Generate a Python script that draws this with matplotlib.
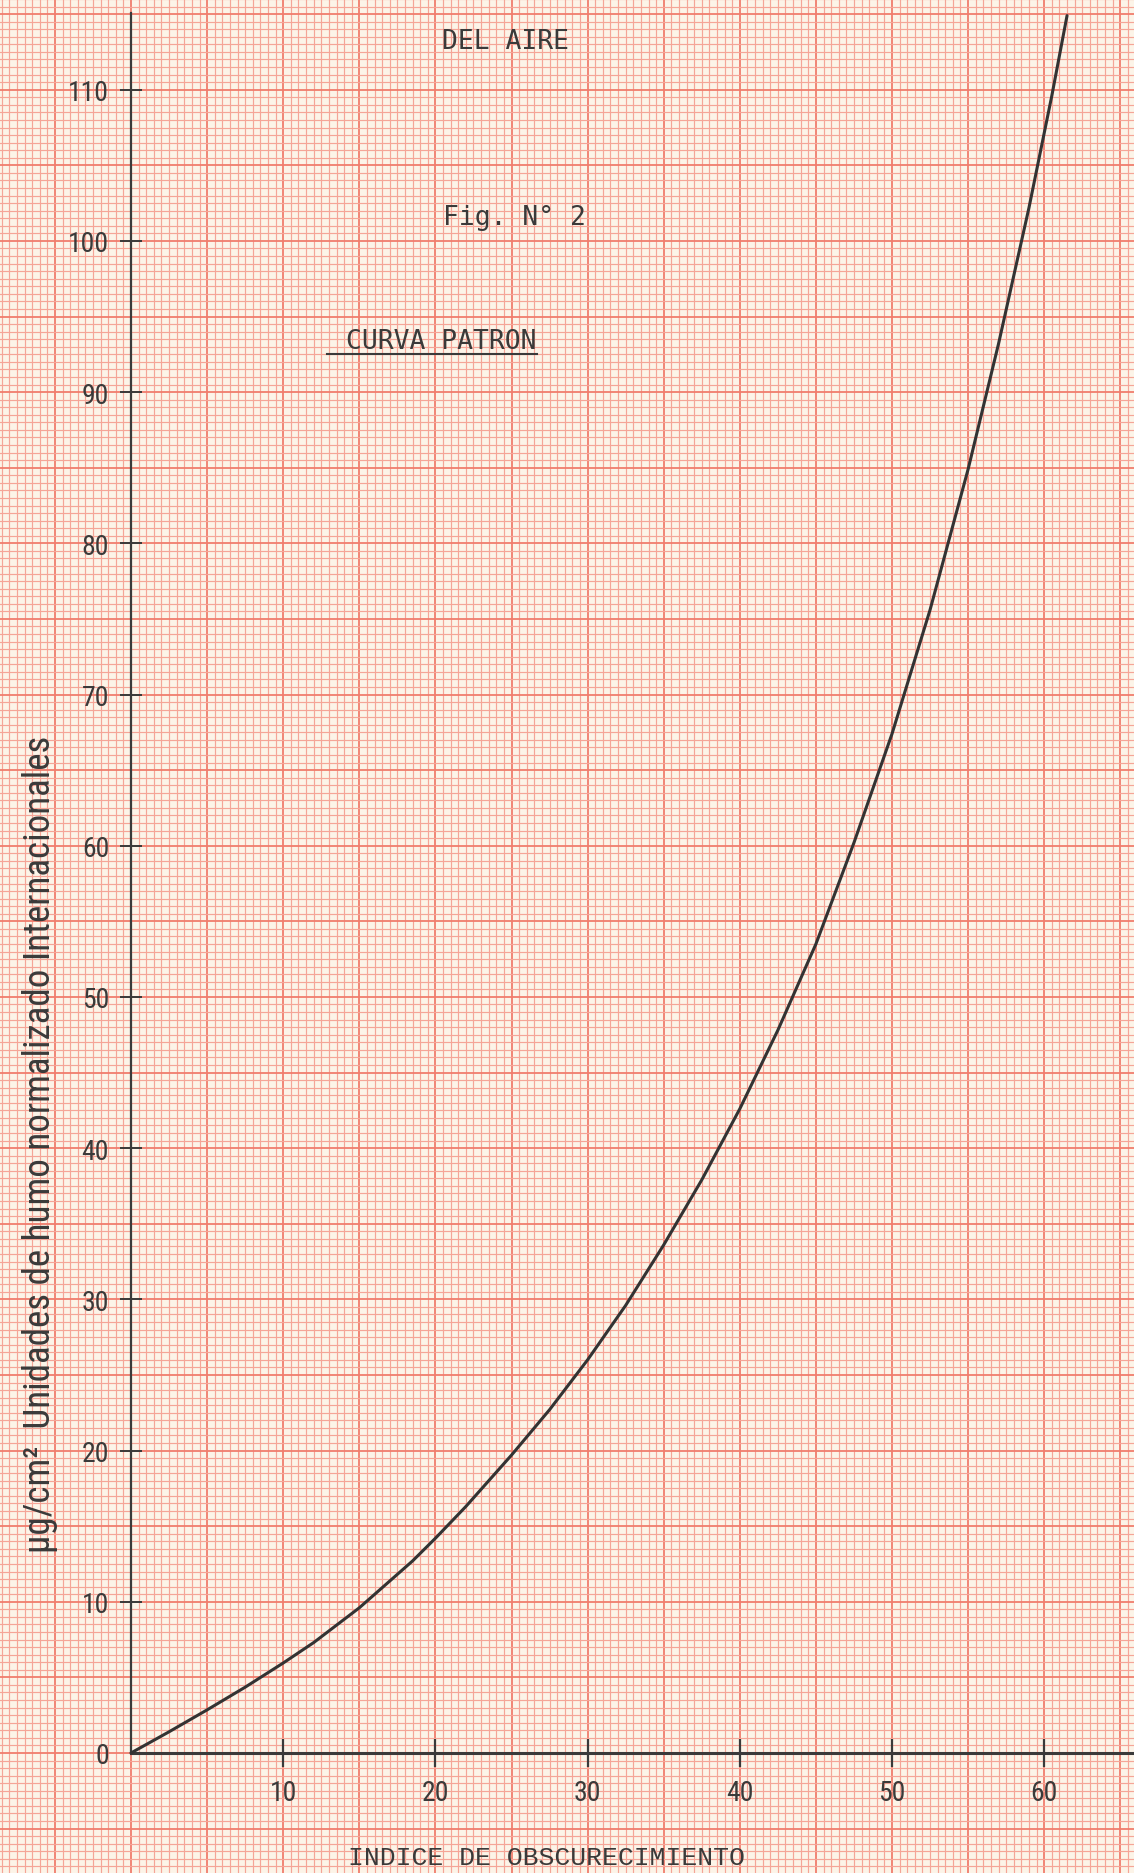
import numpy as np
import matplotlib
matplotlib.use("Agg")
import matplotlib.pyplot as plt
from matplotlib import font_manager

# ---------------- data ----------------
x_indice = [0, 2.5, 5, 7.5, 10, 12, 15, 18.5, 20, 22, 25, 27.5, 30, 32.5, 35,
            37.5, 40, 42.5, 45, 47.5, 50, 52.5, 55, 57, 59, 60.5, 61.5]
y_humo = [0, 1.4, 2.85, 4.35, 5.95, 7.3, 9.6, 12.7, 14.2, 16.3, 19.7, 22.7, 26.0, 29.6, 33.6,
          37.9, 42.6, 47.8, 53.5, 60.2, 67.4, 75.6, 84.9, 93.2, 102.2, 109.6, 114.9]

x_ticks = [10, 20, 30, 40, 50, 60]
x_tick_labels = ["10", "20", "30", "40", "50", "60"]
y_ticks = [0, 10, 20, 30, 40, 50, 60, 70, 80, 90, 100, 110]
y_tick_labels = ["0", "10", "20", "30", "40", "50", "60", "70", "80", "90", "100", "110"]

title_lines = ["DEL AIRE", "Fig. N\u00b0 2", "CURVA PATRON"]
x_label = "INDICE DE OBSCURECIMIENTO"
y_label = "\u00b5g/cm\u00b2  Unidades de humo normalizado Internacionales"


def pick(families, default):
    for f in families:
        try:
            font_manager.findfont(font_manager.FontProperties(family=f),
                                  fallback_to_default=False)
            return f
        except Exception:
            pass
    return default


narrow = pick(["Liberation Sans Narrow", "Roboto Condensed", "Open Sans Condensed"], "DejaVu Sans")
mono_sans = pick(["DejaVu Sans Mono"], "DejaVu Sans")
mono_serif = pick(["Liberation Mono", "DejaVu Sans Mono"], "DejaVu Sans")

paper = "#fcf4e8"
fine_c = "#f5a597"
heavy_c = "#f07d6d"
ink = "#3a3a3a"

W, H = 1134, 1874
fig = plt.figure(figsize=(W / 100, H / 100), dpi=100)
fig.patch.set_facecolor(paper)
ax = fig.add_axes([0, 0, 1, 1])
ax.set_facecolor(paper)

x0, x1 = -8.61, 65.9
y0, y1 = -7.94, 116.0
ax.set_xlim(x0, x1)
ax.set_ylim(y0, y1)

# ---------------- graph paper ----------------
gx = np.arange(-8.5, 66.0, 0.5)
gy = np.arange(-7.5, 116.1, 0.5)
for v in gx:
    if abs(v / 5 - round(v / 5)) < 1e-6:
        c, lw = heavy_c, 1.3
    else:
        c, lw = fine_c, 0.85
    ax.axvline(v, color=c, lw=lw, zorder=0)
for v in gy:
    if abs(v / 5 - round(v / 5)) < 1e-6:
        c, lw = heavy_c, 1.3
    else:
        c, lw = fine_c, 0.85
    ax.axhline(v, color=c, lw=lw, zorder=0)

# ---------------- axes (spines through the origin) ----------------
for s in ["top", "right"]:
    ax.spines[s].set_visible(False)
ax.spines["left"].set_position(("data", 0))
ax.spines["bottom"].set_position(("data", 0))
ax.spines["left"].set_bounds(0, 115.1)
ax.spines["bottom"].set_bounds(0, x1)
ax.spines["left"].set_color(ink)
ax.spines["bottom"].set_color(ink)
ax.spines["left"].set_linewidth(1.6)
ax.spines["bottom"].set_linewidth(2.2)
ax.spines["left"].set_zorder(3)
ax.spines["bottom"].set_zorder(3)

ax.set_xticks(x_ticks)
ax.set_xticklabels(x_tick_labels)
ax.set_yticks(y_ticks)
ax.set_yticklabels(y_tick_labels)
ax.tick_params(axis="x", direction="inout", length=20, width=1.6, color=ink,
               pad=9, labelsize=20, labelcolor=ink)
ax.tick_params(axis="y", direction="inout", length=16.5, width=1.4, color=ink,
               pad=7.5, labelsize=20, labelcolor=ink)
ax.yaxis.get_major_ticks()[0].tick1line.set_visible(False)
for lab in ax.get_xticklabels() + ax.get_yticklabels():
    lab.set_family([narrow, "DejaVu Sans"])

# ---------------- curve ----------------
ax.plot(x_indice, y_humo, color="#333333", lw=2.2, zorder=4,
        solid_capstyle="round", solid_joinstyle="round")

# ---------------- texts ----------------
ax.text(24.6, 113.2, title_lines[0], family=[mono_sans, "DejaVu Sans"], fontsize=19,
        color=ink, ha="center", va="center")
ax.text(25.2, 101.6, title_lines[1], family=[mono_sans, "DejaVu Sans"], fontsize=19,
        color=ink, ha="center", va="center")
ax.text(20.4, 93.4, title_lines[2], family=[mono_sans, "DejaVu Sans"], fontsize=19,
        color=ink, ha="center", va="center")
ax.plot([12.9, 26.7], [92.55, 92.55], color=ink, lw=1.5, zorder=4)

ax.text(27.3, -6.9, x_label, family=[mono_serif, "DejaVu Sans"], fontsize=19,
        color=ink, ha="center", va="center")

yl = ax.text(-6.0, 40.3, y_label, family=[narrow, "DejaVu Sans"], fontsize=20,
             color=ink, ha="center", va="center", rotation=90)

fig.canvas.draw()
r = fig.canvas.get_renderer()
bb = yl.get_window_extent(r)
yl.set_fontsize(20 * 818.0 / bb.height)

fig.savefig("out.png", dpi=100, facecolor=paper)
